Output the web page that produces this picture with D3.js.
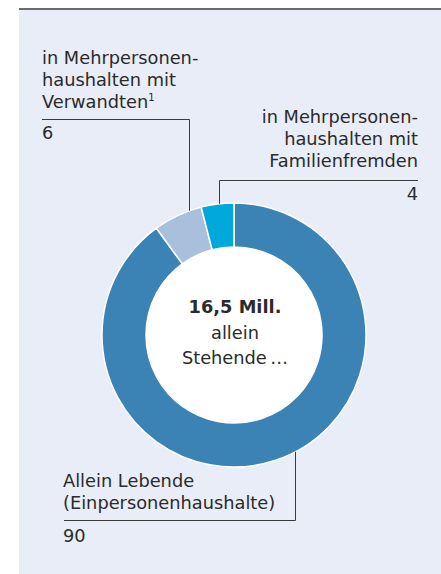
<!DOCTYPE html>
<html>
  <head>
    <meta charset="utf-8">
    <style>
      body { margin: 0; background: #fff; }
      text { font-family: "DejaVu Sans", sans-serif; fill: #2b2b2b; }
      .slice { stroke: #fff; stroke-width: 1.5; }
      .leader { stroke: #3a3a3a; stroke-width: 1; fill: none; }
    </style>
    <script src="https://cdnjs.cloudflare.com/ajax/libs/d3/7.8.5/d3.min.js"></script>
  </head>
  <body>
    <svg width="441" height="574" id="SVG"></svg>
    <script>
      // shares in percent, drawn clockwise from 12 o'clock
      var categories = ["Allein Lebende", "Verwandte", "Familienfremde"];
      var values = [90, 6, 4];
      var colors = ["#3b82b5", "#a8c0dc", "#00a8dc"];
      var labelLines = [
        ["Allein Lebende", "(Einpersonenhaushalte)"],
        ["in Mehrpersonen-", "haushalten mit", "Verwandten"],
        ["in Mehrpersonen-", "haushalten mit", "Familienfremden"]
      ];
      var centerLines = ["16,5 Mill.", "allein", "Stehende\u2009…"];

      var svg = d3.select("#SVG");
      var cx = 234, cy = 335, rOuter = 132, rInner = 88;
      var fs = 17.8, lh = 22;

      // panel
      svg.append("rect").attr("x", 19).attr("y", 9).attr("width", 422).attr("height", 565)
         .attr("fill", "#e9edf8");
      svg.append("line").attr("x1", 19).attr("x2", 441).attr("y1", 9).attr("y2", 9)
         .attr("stroke", "#6b6b6b").attr("stroke-width", 2);

      var pie = d3.pie().sort(null).value(function(d) { return d; });
      var arc = d3.arc().innerRadius(rInner).outerRadius(rOuter);

      var g = svg.append("g").attr("transform", "translate(" + cx + "," + cy + ")");
      g.append("circle").attr("r", rInner).attr("fill", "#fff");
      g.selectAll(".slice")
       .data(pie(values))
       .enter()
       .append("path")
       .attr("class", "slice")
       .attr("d", arc)
       .attr("fill", function(d, i) { return colors[i]; });

      // center text
      var ct = g.append("text").attr("text-anchor", "middle").style("font-size", fs + "px");
      centerLines.forEach(function(t, i) {
        ct.append("tspan").attr("x", 1).attr("y", -22 + i * 25.5).text(t)
          .style("font-weight", i == 0 ? "bold" : "normal");
      });

      // y on the outer edge of the ring at a given x
      function ringY(x, top) {
        var dx = x - cx;
        var dy = Math.sqrt(rOuter * rOuter - dx * dx);
        return top ? cy - dy : cy + dy;
      }

      function block(lines, x, y0, anchor) {
        var t = svg.append("text").attr("text-anchor", anchor).style("font-size", fs + "px");
        lines.forEach(function(s, i) {
          t.append("tspan").attr("x", x).attr("y", y0 + i * lh).text(s);
        });
        return t;
      }

      // Verwandten (left top)
      var t1 = block(labelLines[1], 42, 64, "start");
      t1.select("tspan:last-child").append("tspan").attr("dy", -7).style("font-size", "10px").text("1");
      svg.append("path").attr("class", "leader")
         .attr("d", "M42,119.5H189.5V" + ringY(189.5, true));
      svg.append("text").attr("x", 42).attr("y", 139).style("font-size", fs + "px").text(values[1]);

      // Familienfremden (right top)
      block(labelLines[2], 418, 123, "end");
      svg.append("path").attr("class", "leader")
         .attr("d", "M418,180.5H219.5V" + ringY(219.5, true));
      svg.append("text").attr("x", 418).attr("y", 200).attr("text-anchor", "end")
         .style("font-size", fs + "px").text(values[2]);

      // Allein Lebende (bottom)
      block(labelLines[0], 63, 487, "start");
      svg.append("path").attr("class", "leader")
         .attr("d", "M64,520.5H295.5V" + ringY(295.5, false));
      svg.append("text").attr("x", 63).attr("y", 542).style("font-size", fs + "px").text(values[0]);
    </script>
  </body>
</html>
